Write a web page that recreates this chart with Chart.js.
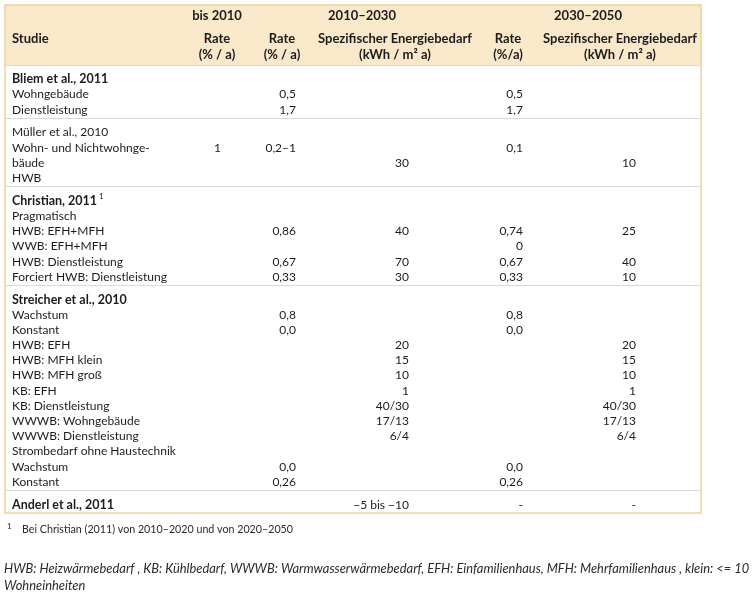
<!DOCTYPE html>
<html>
<head>
<meta charset="utf-8">
<script src="https://cdn.jsdelivr.net/npm/chart.js@4.4.1/dist/chart.umd.min.js"></script>
<style>
html, body { margin: 0; padding: 0; background: #fff; }
#wrap { width: 753px; height: 600px; }
</style>
</head>
<body>
<div id="wrap"><canvas id="Tabelle"></canvas></div>
<script>
// Abschnitte (Studien) und Zeilen je Abschnitt
var sectionLines = [3, 4, 6, 13, 1];

var rowLabels = [
  'Bliem et al., 2011', 'Wohngebäude', 'Dienstleistung',
  'Müller et al., 2010', 'Wohn- und Nichtwohnge-', 'bäude', 'HWB',
  'Christian, 2011', 'Pragmatisch', 'HWB: EFH+MFH', 'WWB: EFH+MFH', 'HWB: Dienstleistung', 'Forciert HWB: Dienstleistung',
  'Streicher et al., 2010', 'Wachstum', 'Konstant', 'HWB: EFH', 'HWB: MFH klein', 'HWB: MFH groß', 'KB: EFH',
  'KB: Dienstleistung', 'WWWB: Wohngebäude', 'WWWB: Dienstleistung', 'Strombedarf ohne Haustechnik', 'Wachstum', 'Konstant',
  'Anderl et al., 2011'
];
var boldRows = [0, 7, 13, 26];
var superRows = [7];

var rateBis2010 = [
  '', '', '',
  '', '1', '', '',
  '', '', '', '', '', '',
  '', '', '', '', '', '', '', '', '', '', '', '', '',
  ''
];
var rate2030 = [
  '', '0,5', '1,7',
  '', '0,2–1', '', '',
  '', '', '0,86', '', '0,67', '0,33',
  '', '0,8', '0,0', '', '', '', '', '', '', '', '', '0,0', '0,26',
  ''
];
var energy2030 = [
  '', '', '',
  '', '', '30', '',
  '', '', '40', '', '70', '30',
  '', '', '', '20', '15', '10', '1', '40/30', '17/13', '6/4', '', '', '',
  '−5 bis −10'
];
var rate2050 = [
  '', '0,5', '1,7',
  '', '0,1', '', '',
  '', '', '0,74', '0', '0,67', '0,33',
  '', '0,8', '0,0', '', '', '', '', '', '', '', '', '0,0', '0,26',
  '-'
];
var energy2050 = [
  '', '', '',
  '', '', '10', '',
  '', '', '25', '', '40', '10',
  '', '', '', '20', '15', '10', '1', '40/30', '17/13', '6/4', '', '', '',
  '-'
];

var periodLabels = ['bis 2010', '2010–2030', '2030–2050'];
var columnTitles = ['Rate', 'Rate', 'Spezifischer Energiebedarf', 'Rate', 'Spezifischer Energiebedarf'];
var columnUnits = ['(% / a)', '(% / a)', '(kWh / m² a)', '(%/a)', '(kWh / m² a)'];
var footnote = 'Bei Christian (2011) von 2010–2020 und von 2020–2050';
var legendLines = [
  'HWB: Heizwärmebedarf , KB: Kühlbedarf, WWWB: Warmwasserwärmebedarf, EFH: Einfamilienhaus, MFH: Mehrfamilienhaus , klein: <= 10',
  'Wohneinheiten'
];

// Layout (Tabellen-Pixel ab linkem Rand)
var LABEL_X = 7;
var COL_RIGHT = [216, 291, 404, 518, 631];
var COL_HEAD = [212, 277, 390, 503, 615];
var PERIOD_X = [212, 357, 583];
var SECTION_PAD = 0.5, LINE_OFFSET = 0.95;

var FONT = 'Lato, "Noto Sans", sans-serif';
var TEXT = '#1c1c1c';

// Zeilenpositionen in Zeilen-Einheiten
var rowSlots = [], sectionStarts = [], s = 0;
sectionLines.forEach(function(n) {
  sectionStarts.push(s);
  for (var k = 0; k < n; k++) rowSlots.push(s + LINE_OFFSET + k);
  s += n + SECTION_PAD;
});
var totalSlots = s;

var columns = [rowLabels, rateBis2010, rate2030, energy2030, rate2050, energy2050];
var anchors = [LABEL_X].concat(COL_RIGHT);

var tablePlugin = {
  id: 'tabelle',
  beforeDatasetsDraw: function(chart) {
    var c = chart.ctx, a = chart.chartArea, x = chart.scales.x, y = chart.scales.y;
    var headTop = a.top - 60;
    c.save();
    c.fillStyle = '#fae8ca';
    c.fillRect(a.left, headTop, a.right - a.left, 60);
    c.strokeStyle = '#f2d6a9';
    c.lineWidth = 1;
    c.beginPath(); c.moveTo(a.left, a.top + 0.5); c.lineTo(a.right, a.top + 0.5); c.stroke();
    c.strokeStyle = '#d9d9d9';
    c.lineWidth = 1.2;
    sectionStarts.slice(1).forEach(function(st) {
      var py = Math.round(y.getPixelForValue(st)) + 0.5;
      c.beginPath(); c.moveTo(a.left, py); c.lineTo(a.right, py); c.stroke();
    });
    // Kopfzeilen
    c.fillStyle = TEXT;
    c.textBaseline = 'middle';
    c.font = 'bold 13px ' + FONT;
    c.textAlign = 'center';
    periodLabels.forEach(function(t, i) { c.fillText(t, x.getPixelForValue(PERIOD_X[i]), headTop + 11); });
    columnTitles.forEach(function(t, i) { c.fillText(t, x.getPixelForValue(COL_HEAD[i]), headTop + 34); });
    columnUnits.forEach(function(t, i) { c.fillText(t, x.getPixelForValue(COL_HEAD[i]), headTop + 50); });
    c.textAlign = 'left';
    c.fillText('Studie', x.getPixelForValue(LABEL_X), headTop + 34);
    // Fußnoten
    c.fillStyle = '#2a2a2a';
    c.font = '8px ' + FONT;
    c.fillText('1', a.left + 2, a.bottom + 13);
    c.font = '10.7px ' + FONT;
    c.fillText(footnote, a.left + 17, a.bottom + 17);
    c.font = 'italic 12.9px ' + FONT;
    legendLines.forEach(function(t, i) { c.fillText(t, a.left - 1, a.bottom + 56 + i * 17); });
    c.restore();
  },
  afterDatasetsDraw: function(chart) {
    var c = chart.ctx, a = chart.chartArea;
    c.save();
    c.fillStyle = TEXT;
    c.textBaseline = 'middle';
    chart.data.datasets.forEach(function(ds, d) {
      var meta = chart.getDatasetMeta(d);
      meta.data.forEach(function(pt, j) {
        var t = columns[d][j];
        if (!t) return;
        var bold = d === 0 && boldRows.indexOf(j) >= 0;
        c.font = bold ? 'bold 12.5px ' + FONT : '12px ' + FONT;
        c.textAlign = d === 0 ? 'left' : 'right';
        c.fillText(t, pt.x, pt.y);
        if (d === 0 && superRows.indexOf(j) >= 0) {
          var w = c.measureText(t).width;
          c.font = '8px ' + FONT;
          c.fillText('1', pt.x + w + 2, pt.y - 4);
        }
      });
    });
    c.strokeStyle = '#f0cf9c';
    c.lineWidth = 1.5;
    c.strokeRect(a.left, a.top - 60, a.right - a.left, a.bottom - a.top + 60);
    c.restore();
  }
};

new Chart(document.getElementById('Tabelle'), {
  type: 'scatter',
  data: {
    datasets: columns.map(function(col, d) {
      return {
        label: d === 0 ? 'Studie' : columnTitles[d - 1],
        data: rowSlots.map(function(v) { return { x: anchors[d], y: v }; }),
        pointRadius: 0,
        pointHoverRadius: 0,
        showLine: false
      };
    })
  },
  options: {
    responsive: true,
    maintainAspectRatio: false,
    animation: false,
    events: [],
    layout: { padding: { left: 5, right: 52, top: 65, bottom: 87 } },
    plugins: { legend: { display: false }, tooltip: { enabled: false } },
    scales: {
      x: { type: 'linear', min: 0, max: 696, display: false },
      y: { type: 'linear', min: 0, max: totalSlots, reverse: true, display: false }
    }
  },
  plugins: [tablePlugin]
});
</script>
</body>
</html>
